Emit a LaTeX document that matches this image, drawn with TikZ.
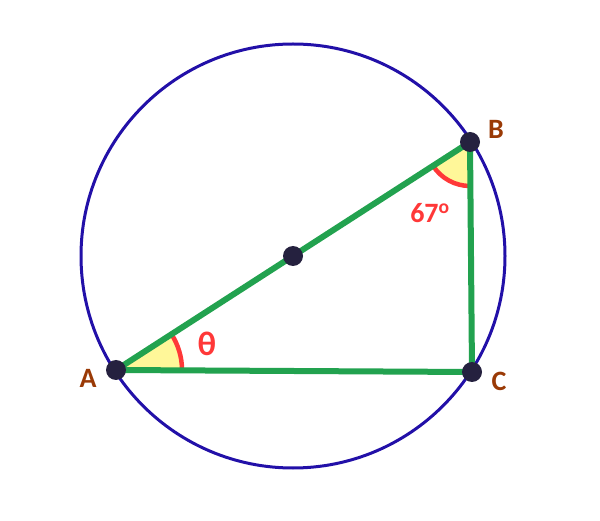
\documentclass[tikz,border=0pt]{standalone}
\usepackage{fontspec}
\setmainfont{Carlito}
\definecolor{circblue}{HTML}{2210A8}
\definecolor{lgreen}{HTML}{22A24F}
\definecolor{dotc}{HTML}{25213F}
\definecolor{angred}{HTML}{FF3838}
\definecolor{angyel}{HTML}{FFF799}
\definecolor{lblbrown}{HTML}{9A3A06}
\tikzset{
  side/.style={draw=lgreen,line width=6pt,line cap=round},
  vdot/.style={circle,fill=dotc,minimum size=20pt,inner sep=0pt},
  vlabel/.style={text=lblbrown,font=\fontsize{28}{32}\selectfont\bfseries},
  anglabel/.style={text=angred,font=\fontsize{28}{32}\selectfont\bfseries},
  anglearc/.style={draw=angred,line width=4.5pt},
}
\begin{document}
\begin{tikzpicture}[x=1pt,y=1pt]
\useasboundingbox (0,0) rectangle (600,520);
\coordinate (A) at (116,150);
\coordinate (B) at (470,378);
\coordinate (C) at (472,148);
\coordinate (O) at (293,264);
\draw[circblue,line width=3pt] (O) circle (212);
% angle at A
\fill[angyel] (A) -- ++(0:66) arc (0:32.8:66) -- cycle;
\draw[anglearc] (A) ++(0:66) arc (0:32.8:66);
% angle at B
\fill[angyel] (B) -- ++(212.8:44) arc (212.8:270:44) -- cycle;
\draw[anglearc] (B) ++(212.8:44) arc (212.8:270:44);
% sides
\draw[side] (A) -- (B);
\draw[side] (B) -- (C);
\draw[side] (C) -- (A);
% dots
\node[vdot] (nA) at (A) {};
\node[vdot] (nB) at (B) {};
\node[vdot] (nC) at (C) {};
\node[vdot] (nO) at (O) {};
% labels
\node[vlabel] (lA) at (88,142) {A};
\node[vlabel] (lB) at (496,391) {B};
\node[vlabel] (lC) at (499,139) {C};
\node[anglabel,font=\fontsize{34}{38}\selectfont\bfseries] (lt) at (207,176) {θ};
\node[anglabel] (l67) at (430,307) {67\textsuperscript{o}};
\end{tikzpicture}
\end{document}
